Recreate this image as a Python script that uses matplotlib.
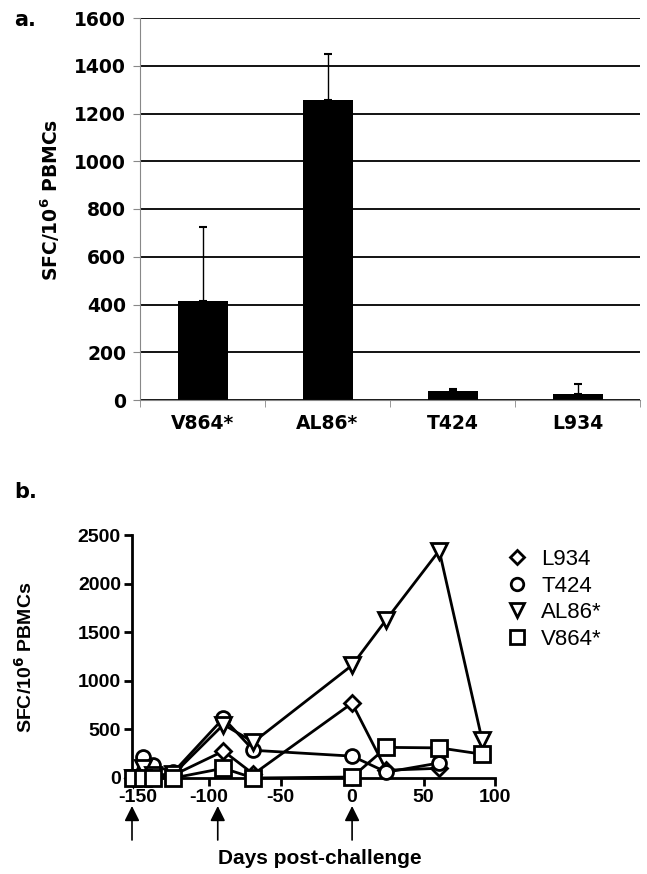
import matplotlib
matplotlib.use("Agg")
import matplotlib.pyplot as plt
from matplotlib.lines import Line2D

plt.rcParams['mathtext.fontset'] = 'custom'
plt.rcParams['mathtext.bf'] = 'DejaVu Sans:bold'
plt.rcParams['axes.unicode_minus'] = False

# panel a: mean response per epitope
epitopes = ['V864*', 'AL86*', 'T424', 'L934']
means = [415, 1255, 38, 27]
err_up = [310, 195, 10, 41]

# panel b: time course (days relative to challenge)
days = [-153, -146, -139, -125, -90, -69, 0, 24, 61, 91]
l934 = [0, 30, 20, 30, 277, 40, 770, 80, 100]
t424 = [0, 215, 130, 60, 615, 285, 225, 60, 155]
al86 = [0, 100, 30, 40, 550, 370, 1160, 1630, 2340, 390]
v864 = [0, 0, 0, 0, 100, 0, 10, 315, 310, 245]
arrow_days = [-154, -94, 0]

W, H = 647, 874
fig = plt.figure(figsize=(W / 100, H / 100), dpi=100)

# ---- panel a ----
ax1 = fig.add_axes([140 / W, 1 - 400 / H, 500 / W, 382 / H])
x = list(range(len(epitopes)))
ax1.bar(x, means, width=0.4, color='black', zorder=3,
        yerr=[[0] * len(means), err_up],
        error_kw=dict(ecolor='black', elinewidth=1, capsize=3, capthick=1.5, zorder=3))
ax1.set_xlim(-0.5, 3.5)
ax1.set_ylim(0, 1600)
ax1.set_yticks(range(0, 1601, 200))
ax1.yaxis.grid(True, color='black', lw=1.3, zorder=0)
ax1.set_axisbelow(True)
for s in ['top', 'right']:
    ax1.spines[s].set_visible(False)
for s in ['left', 'bottom']:
    ax1.spines[s].set_color('#888888')
    ax1.spines[s].set_linewidth(0.8)
    ax1.spines[s].set_zorder(4)
ax1.set_xticks(x)
ax1.set_xticklabels(epitopes, fontsize=13.5, fontweight='bold', family='DejaVu Sans')
ax1.set_xticks([-0.5, 0.5, 1.5, 2.5, 3.5], minor=True)
ax1.tick_params(axis='x', which='major', length=0, pad=10)
ax1.tick_params(axis='x', which='minor', length=5, color='#888888')
ax1.tick_params(axis='y', length=5, color='#888888', pad=5)
for lab in ax1.get_yticklabels():
    lab.set_fontsize(13.5)
    lab.set_fontweight('bold')
fig.text(50 / W, 1 - 200 / H, r'SFC/10$^{\mathbf{6}}$ PBMCs', rotation=90,
         ha='center', va='center', fontsize=13.5, fontweight='bold')
fig.text(14 / W, 1 - 20 / H, 'a.', fontsize=15, fontweight='bold', va='center')

# ---- panel b ----
lab_font = 'Liberation Sans'
ax2 = fig.add_axes([132 / W, 1 - 778 / H, (495 - 132) / W, (778 - 535) / H])
series = [
    ('L934', l934, 'D', 8.5),
    ('T424', t424, 'o', 10),
    ('AL86*', al86, 'v', 11),
    ('V864*', v864, 's', 11),
]
handles = []
for name, vals, mk, ms in series:
    ax2.plot(days[:len(vals)], vals, color='black', lw=2, marker=mk, ms=ms,
             mfc='white', mec='black', mew=2, clip_on=False, zorder=3)
    handles.append(Line2D([], [], ls='none', marker=mk, ms=ms - 1, mfc='white',
                          mec='black', mew=2, label=name))
ax2.set_xlim(-154, 100)
ax2.set_ylim(0, 2500)
ax2.set_xticks([-150, -100, -50, 0, 50, 100])
ax2.set_yticks(range(0, 2501, 500))
for s in ['top', 'right']:
    ax2.spines[s].set_visible(False)
for s in ['left', 'bottom']:
    ax2.spines[s].set_linewidth(2)
ax2.tick_params(direction='out', length=6, width=2, pad=2)
for lab in ax2.get_xticklabels() + ax2.get_yticklabels():
    lab.set_fontsize(14)
    lab.set_fontweight('bold')
    lab.set_family(lab_font)

ax2.legend(handles=handles, loc='upper left', frameon=False,
           bbox_to_anchor=(508 / W, 1 - 549 / H), bbox_transform=fig.transFigure,
           prop={'family': lab_font, 'size': 16}, handlelength=0.8,
           handletextpad=0.7, labelspacing=0.25, borderaxespad=0, borderpad=0)

for d in arrow_days:
    ax2.annotate('', xy=(d, 1 - 806 / H), xytext=(d, 1 - 840 / H),
                 xycoords=('data', 'figure fraction'),
                 textcoords=('data', 'figure fraction'),
                 annotation_clip=False,
                 arrowprops=dict(arrowstyle='-|>,head_length=0.9,head_width=0.45',
                                 color='black', lw=1.2, shrinkA=0, shrinkB=0))

fig.text(25 / W, 1 - 657 / H, r'SFC/10$^{\mathbf{6}}$ PBMCs', rotation=90,
         ha='center', va='center', fontsize=14, fontweight='bold', family=lab_font)
fig.text(320 / W, 1 - 858 / H, 'Days post-challenge', ha='center', va='center',
         fontsize=15, fontweight='bold', family=lab_font)
fig.text(14 / W, 1 - 492 / H, 'b.', fontsize=15, fontweight='bold', va='center')

fig.savefig('out.png', dpi=100)
